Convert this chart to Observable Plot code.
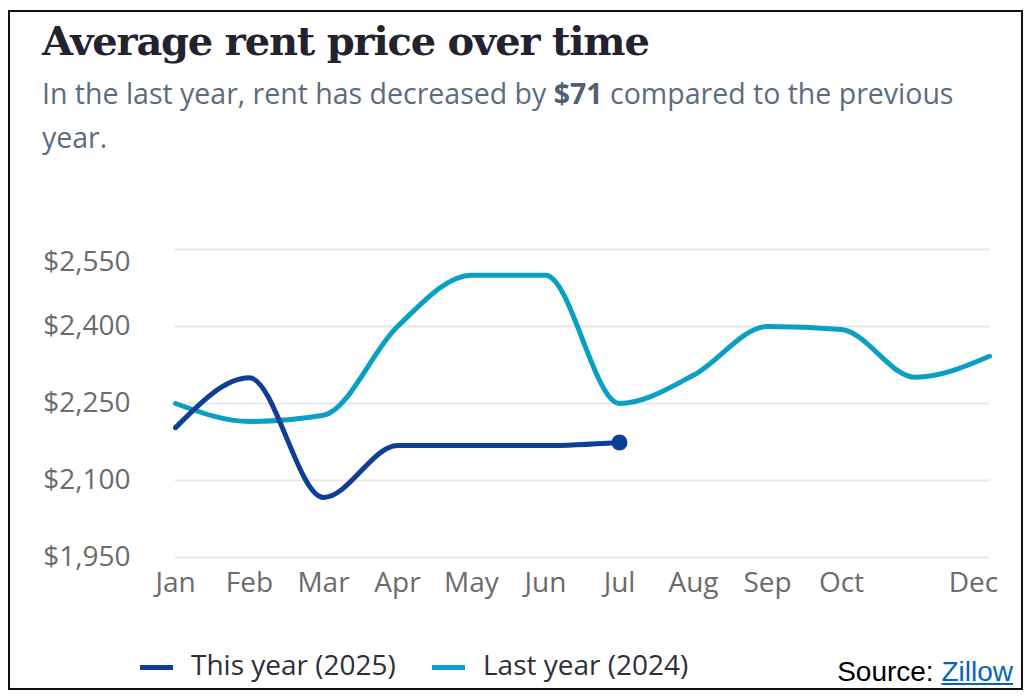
<!DOCTYPE html>
<html>
<head>
<meta charset="utf-8">
<script src="https://cdn.jsdelivr.net/npm/d3@7"></script>
<script src="https://cdn.jsdelivr.net/npm/@observablehq/plot@0.6"></script>
<style>
  html, body { margin: 0; padding: 0; background: #fff; }
  #page { position: relative; width: 1025px; height: 698px; overflow: hidden; background: #fff; }
  #frame { position: absolute; left: 8px; top: 10px; width: 1011px; height: 676px; border: 2px solid #111; }
  #title { position: absolute; left: 42px; top: 21px; font-family: "DejaVu Serif", serif; font-weight: bold; font-size: 40px; line-height: 40px; color: #23232f; letter-spacing: -1.2px; white-space: nowrap; }
  #subtitle { position: absolute; left: 42px; top: 71px; font-family: "Open Sans", sans-serif; font-size: 28.5px; line-height: 44px; color: #5b6c80; white-space: nowrap; }
  #subtitle b { font-weight: 700; color: #4f6075; }
  #chart { position: absolute; left: 0; top: 230px; }
  .item { position: absolute; top: 650px; height: 28px; line-height: 28px; font-family: "Open Sans", sans-serif; font-size: 28px; color: #2e2e36; white-space: nowrap; }
  .sw { position: absolute; left: 0; top: 14.5px; width: 33px; height: 5px; }
  .lbl { position: absolute; left: 51px; top: 0; }
  #source { position: absolute; right: 12px; top: 658px; line-height: 28px; font-family: "Liberation Sans", Arial, sans-serif; font-size: 28px; color: #000; white-space: nowrap; }
  #source a { color: #0563c1; text-decoration: underline; }
</style>
</head>
<body>
<div id="page">
  <div id="frame"></div>
  <div id="title"></div>
  <div id="subtitle"></div>
  <div id="chart"></div>
  <div id="source"></div>
</div>
<script>
// ---- data ----
const titleText = "Average rent price over time";
const months = ["Jan","Feb","Mar","Apr","May","Jun","Jul","Aug","Sep","Oct","Nov","Dec"];
const lastYear = [2250, 2215, 2227, 2400, 2500, 2500, 2250, 2305, 2400, 2394, 2301, 2342];
const thisYear = [2203, 2300, 2067, 2168, 2168, 2168, 2174];
const yTicks = [1950, 2100, 2250, 2400, 2550];
const seriesNames = ["This year (2025)", "Last year (2024)"];
const seriesColors = ["#0f3f95", "#0aa0c4"];
const legendLeft = [140, 432];
const decrease = 71;

// ---- text ----
document.getElementById("title").textContent = titleText;
document.getElementById("subtitle").innerHTML =
  `In the last year, rent has decreased by <b>$${decrease}</b> compared to the previous<br>year.`;
document.getElementById("source").innerHTML = `Source: <a>Zillow</a>`;
const page = document.getElementById("page");
seriesNames.forEach((n, i) => {
  const it = document.createElement("div");
  it.className = "item";
  it.style.left = legendLeft[i] + "px";
  it.innerHTML = `<span class="sw" style="background:${seriesColors[i]}"></span><span class="lbl">${n}</span>`;
  page.appendChild(it);
});

// ---- rows ----
const lastRows = lastYear.map((v, i) => ({month: months[i], value: v}));
const thisRows = thisYear.map((v, i) => ({month: months[i], value: v}));
const fmt = d => "$" + d3.format(",")(d);
const axisStyle = {tickSize: 0, label: null, fill: "#6b6b6b"};

const chart = Plot.plot({
  width: 1025,
  height: 378,
  marginLeft: 175,
  marginRight: 36,
  marginTop: 19,
  marginBottom: 51,
  style: {fontFamily: "Open Sans, sans-serif", fontSize: "28px", color: "#6b6b6b", background: "transparent"},
  x: {type: "point", domain: months, padding: 0},
  y: {domain: [1950, 2550]},
  marks: [
    Plot.gridY(yTicks, {stroke: "#e8e8e8", strokeOpacity: 1, strokeWidth: 2}),
    Plot.axisY(yTicks.filter(d => d !== 2550), {...axisStyle, tickPadding: 45, tickFormat: fmt}),
    Plot.axisY([2550], {...axisStyle, tickPadding: 45, tickFormat: fmt, dy: 13}),
    Plot.axisX(months.filter(m => m !== "Nov" && m !== "Dec"), {...axisStyle, tickPadding: 15}),
    Plot.axisX(["Dec"], {...axisStyle, tickPadding: 15, dx: -16}),
    Plot.lineY(lastRows, {x: "month", y: "value", stroke: seriesColors[1], strokeWidth: 5, curve: "monotone-x"}),
    Plot.lineY(thisRows, {x: "month", y: "value", stroke: seriesColors[0], strokeWidth: 5, curve: "monotone-x"}),
    Plot.dot(thisRows.slice(-1), {x: "month", y: "value", r: 8, fill: seriesColors[0]})
  ]
});
document.getElementById("chart").appendChild(chart);
</script>
</body>
</html>
